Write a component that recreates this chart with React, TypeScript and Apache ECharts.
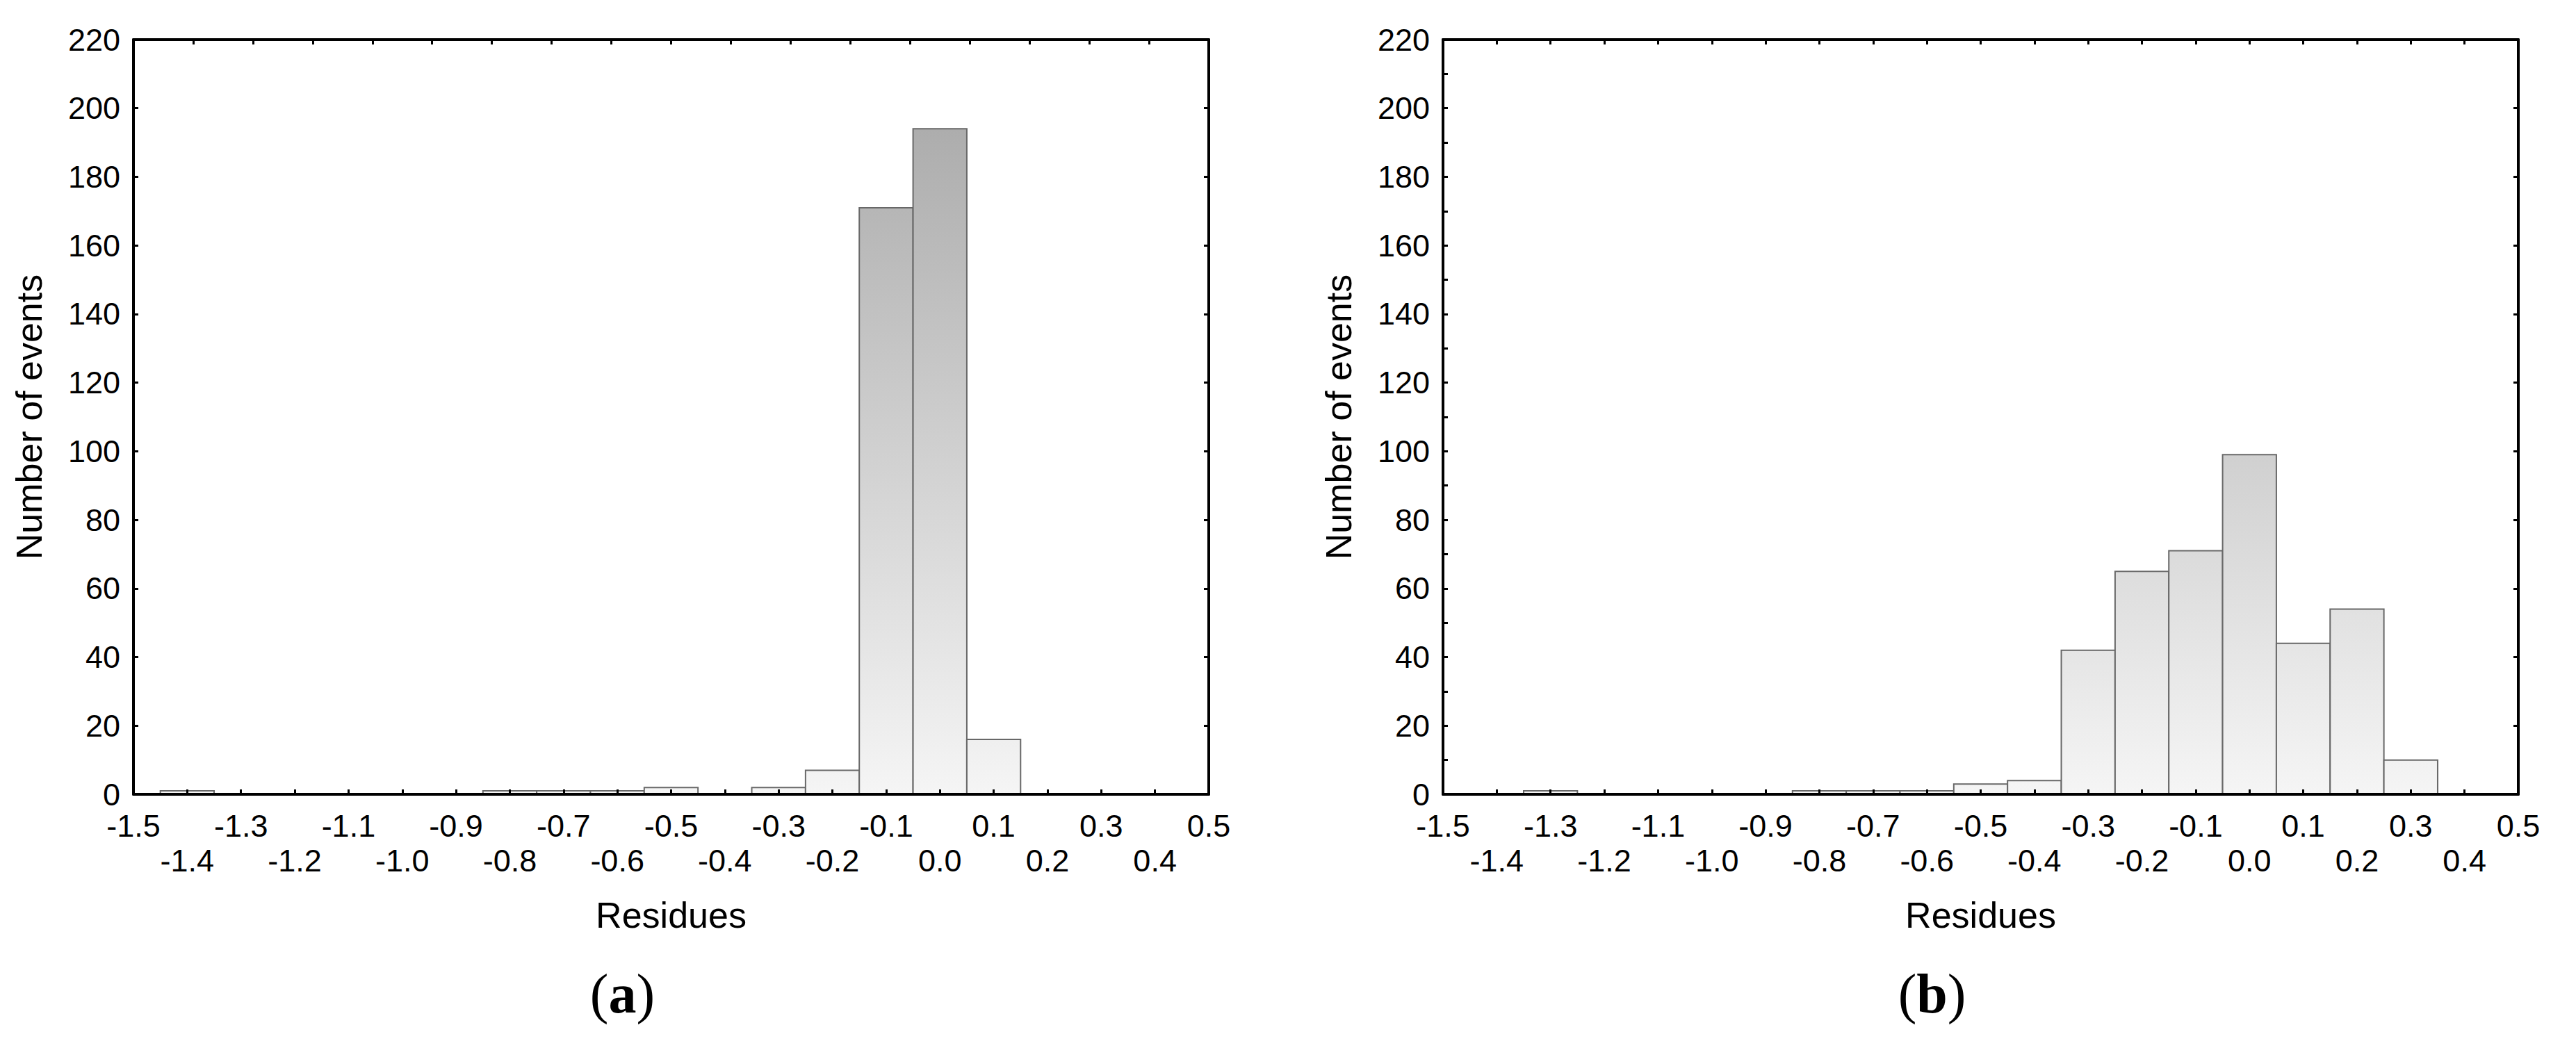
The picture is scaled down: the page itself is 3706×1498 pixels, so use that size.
import React, { useEffect, useRef } from "react";
import * as echarts from "echarts";

// Histogram (a): bin centres (residues) and counts
const binCentersA = [-1.4, -0.8, -0.7, -0.6, -0.5, -0.3, -0.2, -0.1, 0.0, 0.1];
const countsA = [1, 1, 1, 1, 2, 2, 7, 171, 194, 16];

// Histogram (b)
const binCentersB = [-1.3, -0.8, -0.7, -0.6, -0.5, -0.4, -0.3, -0.2, -0.1, 0.0, 0.1, 0.2, 0.3];
const countsB = [1, 1, 1, 1, 3, 4, 42, 65, 71, 99, 44, 54, 10];

const BIN_WIDTH = 0.1;
const X_MIN = -1.5;
const X_MAX = 0.5;
const X_STEP = 0.1;
const Y_MIN = 0;
const Y_MAX = 220;
const Y_STEP = 20;

const xAxisTitle = "Residues";
const yAxisTitle = "Number of events";
const panelLabels = ["a", "b"];

const SANS = "'Liberation Sans', Arial, sans-serif";
const SERIF = "'Liberation Serif', 'Times New Roman', serif";

const GRID_TOP = 57;
const GRID_H = 1086;
const GRID_W = 1547;
const GRID_LEFTS = [192, 2076];

const shade = (v: number) => {
  const g = Math.max(0, Math.min(255, Math.round(245 - (72 * v) / 194)));
  return `rgb(${g},${g},${g})`;
};

const fmtX = (v: number) => {
  const t = Math.round(v * 10);
  const s = t === 0 ? "0.0" : (t / 10).toFixed(1);
  return Math.abs(t) % 2 === 1 ? s : "\n" + s;
};

const axisLine = { show: true, onZero: false, lineStyle: { color: "#000", width: 4 } };
const tick = { show: true, inside: true, length: 7, lineStyle: { color: "#000", width: 3 } };

function makeAxes(gridIndex: number, topIntervals: number, minor: boolean) {
  const xBottom = {
    type: "value",
    gridIndex,
    position: "bottom",
    min: X_MIN,
    max: X_MAX,
    interval: X_STEP,
    z: 10,
    axisLine,
    axisTick: tick,
    splitLine: { show: false },
    axisLabel: {
      show: true,
      margin: 20,
      fontSize: 45,
      lineHeight: 50,
      fontFamily: SANS,
      color: "#000",
      formatter: fmtX,
      hideOverlap: false,
    },
    name: xAxisTitle,
    nameLocation: "middle",
    nameGap: 148,
    nameTextStyle: { fontSize: 52, fontFamily: SANS, color: "#000" },
  };
  const xTop = {
    type: "value",
    gridIndex,
    position: "top",
    min: 0,
    max: topIntervals,
    interval: 1,
    z: 10,
    axisLine,
    axisTick: tick,
    axisLabel: { show: false },
    splitLine: { show: false },
  };
  const yLeft = {
    type: "value",
    gridIndex,
    position: "left",
    min: Y_MIN,
    max: Y_MAX,
    interval: Y_STEP,
    z: 10,
    axisLine,
    axisTick: tick,
    minorTick: minor
      ? { show: true, splitNumber: 2, length: 7, lineStyle: { color: "#000", width: 3 } }
      : { show: false },
    splitLine: { show: false },
    minorSplitLine: { show: false },
    axisLabel: { show: true, margin: 19, fontSize: 45, fontFamily: SANS, color: "#000" },
    name: yAxisTitle,
    nameLocation: "middle",
    nameRotate: 90,
    nameGap: 124,
    nameTextStyle: { fontSize: 52, fontFamily: SANS, color: "#000" },
  };
  const yRight = {
    type: "value",
    gridIndex,
    position: "right",
    min: Y_MIN,
    max: Y_MAX,
    interval: Y_STEP,
    z: 10,
    axisLine,
    axisTick: tick,
    axisLabel: { show: false },
    splitLine: { show: false },
  };
  return { x: [xBottom, xTop], y: [yLeft, yRight] };
}

function histSeries(centers: number[], counts: number[], axisIndex: number) {
  return {
    type: "custom",
    xAxisIndex: axisIndex,
    yAxisIndex: axisIndex,
    z: 2,
    data: centers.map((c, i) => [c, counts[i]]),
    renderItem: (params: any, api: any) => {
      const c = api.value(0);
      const v = api.value(1);
      const p0 = api.coord([c - BIN_WIDTH / 2, v]);
      const p1 = api.coord([c + BIN_WIDTH / 2, 0]);
      return {
        type: "rect",
        shape: { x: p0[0], y: p0[1], width: p1[0] - p0[0], height: p1[1] - p0[1] },
        style: {
          fill: new echarts.graphic.LinearGradient(0, 0, 0, 1, [
            { offset: 0, color: shade(v) },
            { offset: 1, color: shade(0) },
          ]),
          stroke: "#686868",
          lineWidth: 2,
        },
      };
    },
  };
}

export default function App() {
  const ref = useRef<HTMLDivElement>(null);
  useEffect(() => {
    if (!ref.current) return;
    const chart = echarts.init(ref.current, undefined, { renderer: "svg" });
    const a = makeAxes(0, 18, false);
    const b = makeAxes(1, 20, true);
    const panelTextX = GRID_LEFTS.map((l) => l + GRID_W / 2 - 70);
    chart.setOption({
      animation: false,
      backgroundColor: "#fff",
      grid: GRID_LEFTS.map((left) => ({
        left,
        top: GRID_TOP,
        width: GRID_W,
        height: GRID_H,
        containLabel: false,
      })),
      xAxis: [...a.x, ...b.x],
      yAxis: [...a.y, ...b.y],
      series: [histSeries(binCentersA, countsA, 0), histSeries(binCentersB, countsB, 2)],
      graphic: panelLabels.map((lab, i) => ({
        type: "text",
        x: panelTextX[i],
        y: 1430,
        style: {
          text: `{p|(}{b|${lab}}{p|)}`,
          align: "center",
          verticalAlign: "middle",
          rich: {
            p: { fontFamily: SERIF, fontSize: 80, fontWeight: "normal", fill: "#000", color: "#000" },
            b: { fontFamily: SERIF, fontSize: 80, fontWeight: "bold", fill: "#000", color: "#000" },
          },
        },
      })),
    });
    return () => chart.dispose();
  }, []);
  return (
    <div
      ref={ref}
      style={{ position: "fixed", left: 0, top: 0, width: 3706, height: 1498, background: "#fff" }}
    />
  );
}
